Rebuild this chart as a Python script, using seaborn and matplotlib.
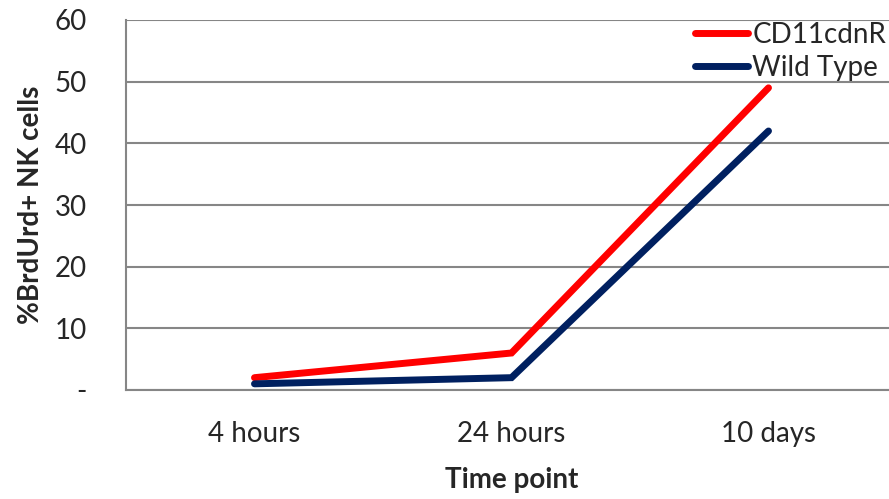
import pandas as pd
import seaborn as sns
import matplotlib.pyplot as plt

time_points = ['4 hours', '24 hours', '10 days']
cd11cdnr = [2, 6, 49]
wild_type = [1, 2, 42]

df = pd.DataFrame({
    'Time point': list(range(len(time_points))) * 2,
    'value': cd11cdnr + wild_type,
    'group': ['CD11cdnR'] * 3 + ['Wild Type'] * 3,
})

sns.set_style('white')
plt.rcParams['font.family'] = ['Lato', 'DejaVu Sans']

fig = plt.figure(figsize=(8.89, 4.99), dpi=100)
ax = fig.add_axes([126 / 889, 1 - 390 / 499, 771 / 889, 370 / 499])

sns.lineplot(data=df, x='Time point', y='value', hue='group',
             palette={'CD11cdnR': '#ff0000', 'Wild Type': '#002060'},
             linewidth=5, ax=ax, legend=True)
for line in ax.get_lines():
    line.set_solid_capstyle('round')
    line.set_solid_joinstyle('miter')

ax.set_xlim(-0.5, 2.5)
ax.set_ylim(0, 60)
ax.set_yticks(range(0, 61, 10))
ax.set_yticklabels(['-'] + [str(v) for v in range(10, 61, 10)])
ax.set_xticks([-0.5, 0.5, 1.5, 2.5])
ax.set_xticklabels([])
ax.set_xticks(range(3), minor=True)
ax.set_xticklabels(time_points, minor=True)
ax.tick_params(axis='x', which='major', length=10, width=1.5, color='#868686', direction='out')
ax.tick_params(axis='x', which='minor', length=0, pad=22, labelsize=20)
ax.tick_params(axis='y', length=10, width=1.5, color='#868686', direction='out', labelsize=20, pad=18)
ax.yaxis.grid(True, color='#868686', linewidth=1.5)
ax.set_axisbelow(True)

for s in ['top', 'right']:
    ax.spines[s].set_visible(False)
for s in ['left', 'bottom']:
    ax.spines[s].set_color('#868686')
    ax.spines[s].set_linewidth(1.5)

ax.set_xlabel('Time point', fontsize=20, fontweight='bold', labelpad=15)
ax.set_ylabel('%BrdUrd+ NK cells', fontsize=20, fontweight='bold', labelpad=8)

leg = ax.legend(loc='upper right', bbox_to_anchor=(886 / 889, 1 - 22 / 499),
                bbox_transform=fig.transFigure, frameon=False, fontsize=20,
                handlelength=1.9, handletextpad=0.15, labelspacing=0.25,
                borderpad=0, borderaxespad=0)
for line in leg.get_lines():
    line.set_linewidth(5)
    line.set_solid_capstyle('round')

fig.savefig('out.png', dpi=100)
